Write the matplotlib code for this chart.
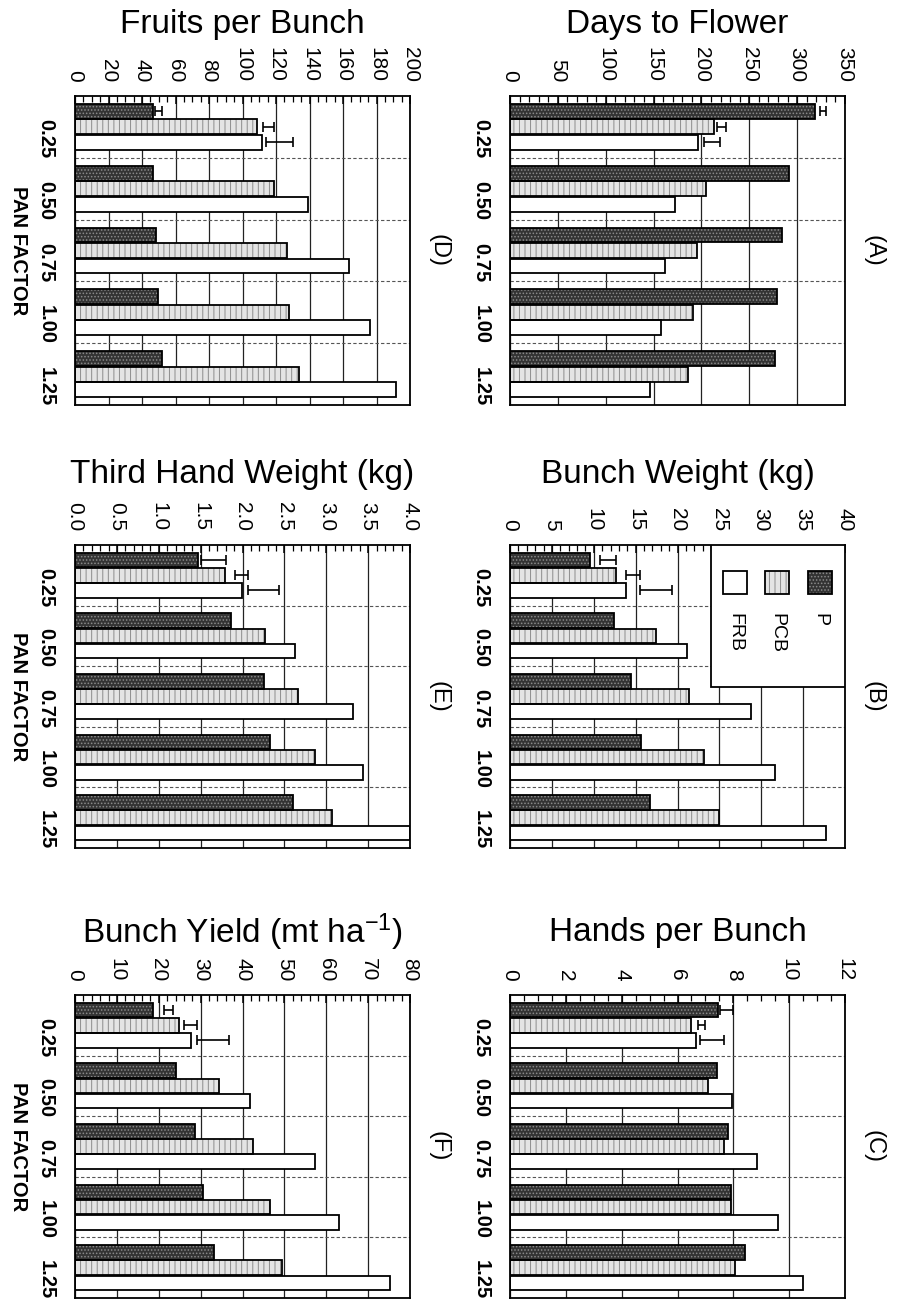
import matplotlib.pyplot as plt
import numpy as np
from matplotlib.patches import Rectangle
from matplotlib.ticker import MultipleLocator, FormatStrFormatter

plt.rcParams['font.family'] = ['Liberation Sans', 'DejaVu Sans']
plt.rcParams['mathtext.default'] = 'regular'
plt.rcParams['hatch.linewidth'] = 0.7

W, H = 898, 1310

pan_factor = ['0.25', '0.50', '0.75', '1.00', '1.25']
treatments = ['P', 'PCB', 'FRB']

# values per treatment (P, PCB, FRB) for each pan factor
days_p = [319, 292, 284, 279, 277]
days_pcb = [213, 205, 195, 191, 186]
days_frb = [196, 172, 162, 158, 146]
days_err = [(324, 330), (216, 226), (203, 219)]

bw_p = [9.6, 12.4, 14.5, 15.6, 16.7]
bw_pcb = [12.7, 17.4, 21.4, 23.2, 24.9]
bw_frb = [13.9, 21.1, 28.8, 31.6, 37.7]
bw_err = [(10.7, 12.6), (13.9, 15.5), (15.5, 19.4)]

hands_p = [7.45, 7.4, 7.8, 7.9, 8.4]
hands_pcb = [6.48, 7.1, 7.68, 7.93, 8.06]
hands_frb = [6.65, 7.94, 8.86, 9.6, 10.5]
hands_err = [(7.54, 8.0), (6.72, 7.0), (6.8, 7.66)]

fruits_p = [46.6, 46.6, 48.2, 49.6, 51.8]
fruits_pcb = [108.7, 119, 126.6, 128, 133.5]
fruits_frb = [111.7, 138.9, 163.3, 176, 191.7]
fruits_err = [(48, 52), (112, 119), (114, 130)]

thw_p = [1.47, 1.86, 2.26, 2.33, 2.6]
thw_pcb = [1.79, 2.27, 2.66, 2.87, 3.07]
thw_frb = [1.99, 2.63, 3.32, 3.44, 4.0]
thw_err = [(1.51, 1.8), (1.91, 2.07), (2.07, 2.43)]

yield_p = [18.6, 24.1, 28.7, 30.5, 33.3]
yield_pcb = [24.8, 34.5, 42.4, 46.5, 49.5]
yield_frb = [27.8, 41.9, 57.3, 63.0, 75.2]
yield_err = [(21.2, 23.4), (26, 29.1), (29.1, 36.7)]

bar_styles = {
    'P': {'face': '#333333', 'hatch': '.....', 'hcolor': '#8a8a8a'},
    'PCB': {'face': '#e4e4e4', 'hatch': '|||', 'hcolor': '#8c8c8c'},
    'FRB': {'face': 'white', 'hatch': None, 'hcolor': 'white'},
}


def px_axes(fig, x0, y0, x1, y1):
    return fig.add_axes([x0 / W, 1 - y1 / H, (x1 - x0) / W, (y1 - y0) / H])


def draw_panel(ax, values, errs, xmax, major, minor, fmt, letter, pan_label):
    centers = np.arange(len(pan_factor)) + 0.5
    offsets = [-0.25, 0.0, 0.25]

    for k, name in enumerate(treatments):
        y = centers + offsets[k]
        st = bar_styles[name]
        ax.barh(y, values[k], height=0.24, color=st['face'], edgecolor=st['hcolor'],
                hatch=st['hatch'], linewidth=0, zorder=2)
        ax.barh(y, values[k], height=0.24, facecolor='none', edgecolor='black',
                linewidth=1.3, zorder=3)
        lo, hi = errs[k]
        ax.errorbar((lo + hi) / 2, y[0], xerr=(hi - lo) / 2, fmt='none', ecolor='black',
                    elinewidth=1.2, capsize=3.5, capthick=1.2, zorder=4)

    for b in range(1, len(pan_factor)):
        ax.axhline(b, color='#555555', lw=0.8, ls=(0, (3, 2)), zorder=1)

    ax.set_xlim(0, xmax)
    ax.set_ylim(len(pan_factor), 0)
    ax.set_axisbelow(True)
    ax.xaxis.grid(True, which='major', color='#222222', lw=0.9)

    ax.xaxis.tick_top()
    ax.xaxis.set_major_locator(MultipleLocator(major))
    ax.xaxis.set_minor_locator(MultipleLocator(minor))
    ax.xaxis.set_major_formatter(FormatStrFormatter(fmt))
    ax.tick_params(axis='x', which='both', direction='in', top=True, bottom=False,
                   labeltop=True, labelbottom=False)
    ax.tick_params(axis='x', which='major', length=6, width=1.1, labelrotation=-90,
                   labelsize=15, pad=10)
    ax.tick_params(axis='x', which='minor', length=4, width=0.9)

    ax.set_yticks(centers)
    ax.set_yticklabels(pan_factor, rotation=-90, fontsize=14.5, fontweight='bold')
    ax.tick_params(axis='y', length=0, pad=14)

    for sp in ax.spines.values():
        sp.set_linewidth(1.3)

    ax.text(1.085, 0.5, letter, transform=ax.transAxes, rotation=-90,
            ha='center', va='center', fontsize=17)
    if pan_label:
        ax.text(-0.17, 0.5, 'PAN FACTOR', transform=ax.transAxes, rotation=-90,
                ha='center', va='center', fontsize=14.5, fontweight='bold')


def draw_legend(ax):
    ax.add_patch(Rectangle((0.60, 0.531), 0.40, 0.469, transform=ax.transAxes,
                           facecolor='white', edgecolor='black', lw=1.3, zorder=5))
    xs = [0.925, 0.797, 0.672]
    for x, name in zip(xs, treatments):
        st = bar_styles[name]
        ax.add_patch(Rectangle((x - 0.035, 0.837), 0.07, 0.076, transform=ax.transAxes,
                               facecolor=st['face'], edgecolor=st['hcolor'], hatch=st['hatch'],
                               lw=0, zorder=6))
        ax.add_patch(Rectangle((x - 0.035, 0.837), 0.07, 0.076, transform=ax.transAxes,
                               facecolor='none', edgecolor='black', lw=1.3, zorder=7))
        ax.text(x, 0.776, name, transform=ax.transAxes, rotation=-90, ha='center',
                va='top', fontsize=14, zorder=7)


panels = [
    ('Days to Flower', [days_p, days_pcb, days_frb], days_err, 350, 50, 10, '%d', '(A)', 1, 0),
    ('Bunch Weight (kg)', [bw_p, bw_pcb, bw_frb], bw_err, 40, 5, 1, '%d', '(B)', 1, 1),
    ('Hands per Bunch', [hands_p, hands_pcb, hands_frb], hands_err, 12, 2, 0.5, '%d', '(C)', 1, 2),
    ('Fruits per Bunch', [fruits_p, fruits_pcb, fruits_frb], fruits_err, 200, 20, 5, '%d', '(D)', 0, 0),
    ('Third Hand Weight (kg)', [thw_p, thw_pcb, thw_frb], thw_err, 4.0, 0.5, 0.1, '%.1f', '(E)', 0, 1),
    ('Bunch Yield (mt ha$^{-1}$)', [yield_p, yield_pcb, yield_frb], yield_err, 80, 10, 2, '%d', '(F)', 0, 2),
]

col_x = [75, 510]
col_w = 335
rows_y = [(96, 405), (545, 848), (995, 1298)]
title_y = [24, 474, 932]

fig = plt.figure(figsize=(W / 100, H / 100), dpi=100, facecolor='white')

for title, vals, errs, xmax, major, minor, fmt, letter, col, row in panels:
    x0 = col_x[col]
    y0, y1 = rows_y[row]
    ax = px_axes(fig, x0, y0, x0 + col_w, y1)
    draw_panel(ax, vals, errs, xmax, major, minor, fmt, letter, col == 0)
    fig.text((x0 + col_w / 2) / W, 1 - title_y[row] / H, title, ha='center', va='center',
             fontsize=24)
    if letter == '(B)':
        draw_legend(ax)

fig.savefig('out.png', dpi=100, facecolor='white')
